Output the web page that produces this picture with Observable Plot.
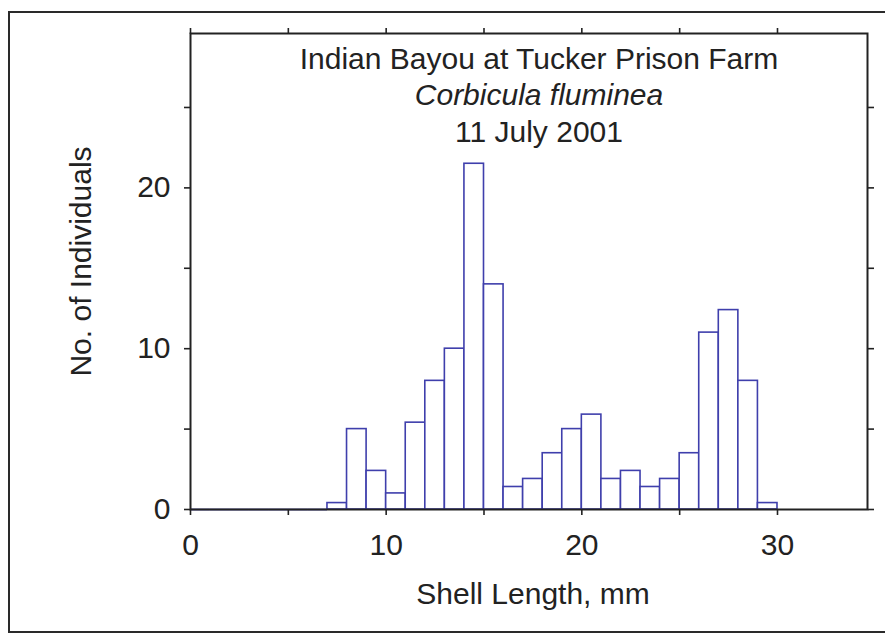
<!DOCTYPE html>
<html>
<head>
<meta charset="utf-8">
<script src="https://cdn.jsdelivr.net/npm/d3@7"></script>
<script src="https://cdn.jsdelivr.net/npm/@observablehq/plot@0.6"></script>
<style>
  html, body { margin: 0; padding: 0; background: #fff; overflow: hidden; }
  #wrap { position: relative; width: 885px; height: 634px; }
  #border { position: absolute; left: 8px; top: 11px; width: 900px; height: 622px;
            border: 2px solid #2a2a2a; box-sizing: border-box; }
  #chart { position: absolute; left: 0; top: 0; }
</style>
</head>
<body>
<div id="wrap"><div id="border"></div><div id="chart"></div></div>
<script>
// Shell-length bins (mm, lower edge) and number of individuals per 1-mm bin
const binStart = [0, 1, 2, 3, 4, 5, 6, 7, 8, 9, 10, 11, 12, 13, 14,
                  15, 16, 17, 18, 19, 20, 21, 22, 23, 24, 25, 26, 27, 28, 29];
const binWidth = 1;
const counts = [0, 0, 0, 0, 0, 0, 0, 0.4, 5.0, 2.4, 1.0, 5.4, 8.0, 10.0, 21.5,
                14.0, 1.4, 1.9, 3.5, 5.0, 5.9, 1.9, 2.4, 1.4, 1.9, 3.5, 11.0, 12.4, 8.0, 0.4];

// Axis ticks and labels
const xTicks = [0, 5, 10, 15, 20, 25, 30];
const xTickLabels = [0, 10, 20, 30];
const yTicks = [0, 5, 10, 15, 20, 25];
const yTickLabels = [0, 10, 20];

// Texts
const titleSite = "Indian Bayou at Tucker Prison Farm";
const titleSpecies = "Corbicula fluminea";
const titleDate = "11 July 2001";
const xLabel = "Shell Length, mm";
const yLabel = "No. of Individuals";

const bins = binStart.map((x0, i) => ({x0, x1: x0 + binWidth, n: counts[i]}));

const ink = "#222";
const barBlue = "#3f3fac";
const fs = 30;

const chart = Plot.plot({
  width: 885,
  height: 634,
  marginLeft: 190,
  marginRight: 18,
  marginTop: 33,
  marginBottom: 125,
  style: {
    fontFamily: "'Liberation Sans', Arial, Helvetica, sans-serif",
    fontSize: fs + "px",
    color: ink,
    background: "transparent",
    overflow: "visible"
  },
  x: {domain: [0, 34.6]},
  y: {domain: [0, 29.6]},
  marks: [
    // empty bins show as a flat outline along the baseline
    Plot.ruleY(bins.filter(d => d.n === 0), {y: 0, x1: "x0", x2: "x1", stroke: barBlue, strokeWidth: 1.8}),
    Plot.rectY(bins.filter(d => d.n > 0), {x1: "x0", x2: "x1", y: "n", fill: "white", stroke: barBlue, strokeWidth: 1.6}),
    Plot.frame({stroke: ink, strokeWidth: 2}),
    Plot.axisX({anchor: "bottom", ticks: xTicks, tickSize: 6, tickPadding: 18, strokeWidth: 1.6,
                tickFormat: d => xTickLabels.includes(d) ? String(d) : "", label: null, fontSize: fs}),
    Plot.axisX({anchor: "top", ticks: xTicks, tickSize: 6, strokeWidth: 1.6,
                tickFormat: () => "", label: null}),
    Plot.axisY({anchor: "left", ticks: yTicks, tickSize: 6, tickPadding: 14, strokeWidth: 1.6,
                tickFormat: d => yTickLabels.includes(d) ? String(d) : "", label: null, fontSize: fs}),
    Plot.axisY({anchor: "right", ticks: yTicks, tickSize: 6, strokeWidth: 1.6,
                tickFormat: () => "", label: null}),
    // three-line title inside the frame
    Plot.text([titleSite], {frameAnchor: "top", dx: 10, dy: 14, fontSize: fs}),
    Plot.text([titleSpecies], {frameAnchor: "top", dx: 10, dy: 50, fontSize: fs, fontStyle: "italic"}),
    Plot.text([titleDate], {frameAnchor: "top", dx: 10, dy: 87, fontSize: fs}),
    // axis titles
    Plot.text([xLabel], {frameAnchor: "bottom", dx: 4, dy: 94, fontSize: fs}),
    Plot.text([yLabel], {frameAnchor: "left", textAnchor: "middle", rotate: -90, dx: -109, dy: -10, fontSize: fs})
  ]
});

document.getElementById("chart").append(chart);
</script>
</body>
</html>
